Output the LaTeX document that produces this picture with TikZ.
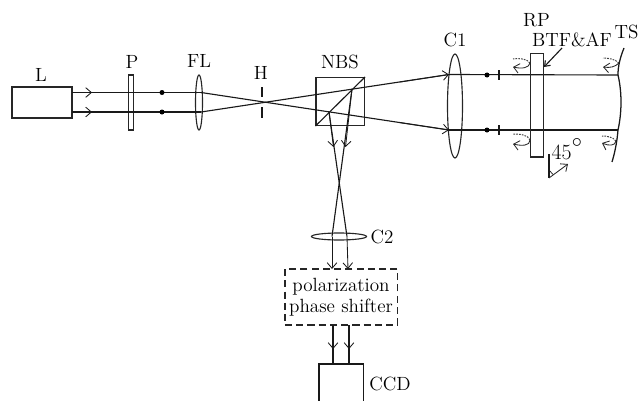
\documentclass[tikz,border=0pt]{standalone}
\usepackage{tikz}
\usetikzlibrary{
    arrows.meta,
    positioning,
    calc,
    shapes.geometric
}

\begin{document}
\begin{tikzpicture}[
  x=0.025cm,
  y=-0.025cm,
  lbl/.style={inner sep=0pt, font=\fontsize{13.6}{15}\selectfont, text=black},
  optbox/.style={draw=black!85, line width=0.8pt, inner sep=0pt},
  lens/.style={draw=black!85, ellipse, line width=0.8pt, inner sep=0pt},
  ray/.style={draw=black!90, line width=0.8pt},
  tip/.style={draw=black!90, line width=0.6pt, -{Straight Barb[length=1.4mm,width=2.4mm]}},
  spot/.style={circle, fill=black, inner sep=0pt, minimum size=1.25mm},
  twist/.style={draw=black!85, line width=0.6pt, -{Straight Barb[length=1.4mm,width=2.4mm]}},
  twistdot/.style={draw=black!75, line width=0.7pt, dash pattern=on 1.2pt off 0.8pt}
]
  \useasboundingbox (0,0) rectangle (639,401);

  % Source and first arm.
  \node[optbox, minimum width=1.5cm, minimum height=0.775cm] (laser) at (42,102.5) {};
  \node[lbl] (laserlbl) at (41,75) {L};
  \node[optbox, minimum width=0.14cm, minimum height=1.375cm] (polar) at (131,102.5) {};
  \node[lbl] (polarlbl) at (132,62) {P};
  \node[lens, minimum width=0.175cm, minimum height=1.375cm] (focus) at (199,102.5) {};
  \node[lbl] (focuslbl) at (199,61) {FL};
  \node[lbl] (holelbl) at (261,73) {H};
  \coordinate (holetop) at (262,87);
  \coordinate (holeupper) at (262,97);
  \coordinate (holelower) at (262,107);
  \coordinate (holebot) at (262,118);
  \draw[ray] (holetop) -- (holeupper);
  \draw[ray] (holelower) -- (holebot);

  \coordinate (beamtopa) at (72,92.5);
  \coordinate (beamlowa) at (72,112);
  \coordinate (focustop) at (201,92.5);
  \coordinate (focuslow) at (201,112);
  \draw[ray] (beamtopa) -- (focustop);
  \draw[ray] (beamlowa) -- (focuslow);
  \draw[tip] (beamtopa) -- (92,92.5);
  \draw[tip] (beamlowa) -- (92,112);
  \node[spot] (dota) at (162,92.5) {};
  \node[spot] (dotb) at (162,112) {};

  % Beam splitter and collimator.
  \node[optbox, minimum width=1.2125cm, minimum height=1.2cm] (nbs) at (340.25,101.5) {};
  \node[lbl] (nbslbl) at (340,62) {NBS};
  \draw[ray] (nbs.south west) -- (nbs.north east);
  \node[lens, minimum width=0.375cm, minimum height=2.6cm] (cone) at (455,106) {};
  \node[lbl] (conelbl) at (455,40) {C1};
  \coordinate (conetop) at (449,74.5);
  \coordinate (conelow) at (449,130);
  \draw[ray] (focuslow) -- (conetop);
  \draw[ray] (focustop) -- (conelow);
  \draw[tip] (400,82) -- (conetop);
  \draw[tip] (400,122.6) -- (conelow);

  % Test arm.
  \coordinate (tstop) at (618,75);
  \coordinate (tslow) at (618,130);
  \draw[ray] (conetop) -- (tstop);
  \draw[ray] (conelow) -- (tslow);
  \node[spot] (dotc) at (487,75) {};
  \node[spot] (dotd) at (487,130) {};
  \coordinate (ticka) at (499,75);
  \coordinate (tickb) at (499,130);
  \draw[ray] ($(ticka)+(0,-5)$) -- ($(ticka)+(0,5)$);
  \draw[ray] ($(tickb)+(0,-5)$) -- ($(tickb)+(0,5)$);
  \node[optbox, minimum width=0.3375cm, minimum height=2.5875cm] (plate) at (537,105.2) {};
  \node[lbl] (platelbl) at (536.5,20) {RP};
  \node[lbl] (filmlbl) at (572,40) {BTF\&AF};
  \draw[ray, -{Straight Barb[length=1.2mm,width=1.8mm]}] (562,48) -- (544,67);
  \node[lbl] (tslbl) at (626.5,32) {TS};
  \draw[draw=black!90, line width=0.9pt] (624,48) .. controls (620,58) and (618,66) .. (tstop)
    .. controls (622,92) and (622,112) .. (tslow)
    .. controls (617,142) and (615,152) .. (612,162);

  % Twist marks.
  \coordinate (twa) at (530,63);
  \coordinate (twb) at (530,140);
  \coordinate (twc) at (619,63);
  \coordinate (twd) at (616,141);
  \draw[twistdot] (twa) .. controls (527,59) and (521,58) .. (513,59);
  \draw[twist] (twa) .. controls (529,68) and (522,69) .. (513,67);
  \draw[twistdot] (twb) .. controls (528,135) and (521,134) .. (513,134);
  \draw[twist] (twb) .. controls (530,146) and (522,146) .. (513,144);
  \draw[twistdot] (twc) .. controls (615,59) and (608,58) .. (603,58);
  \draw[twist] (twc) .. controls (615,67) and (610,68) .. (603,67);
  \draw[twistdot] (twd) .. controls (613,137) and (607,136) .. (602,136);
  \draw[twist] (twd) .. controls (615,146) and (609,146) .. (602,143);

  % Angle mark.
  \node[lbl, font=\fontsize{15.5}{17}\selectfont] (anglelbl) at (561.5,152) {45};
  \node[lbl] (deglbl) at (577,143) {$\circ$};
  \coordinate (anglea) at (549,154);
  \coordinate (angleb) at (549,178);
  \draw[ray] (anglea) -- (angleb);
  \draw[twist] (angleb) -- (568,164);
  \draw[ray, line width=0.5pt] (549,170) -- (553,174.5);

  % Reference arm down to the camera.
  \coordinate (splitb) at (352,89);
  \coordinate (splita) at (329,112);
  \node[lens, minimum width=1.375cm, minimum height=0.175cm] (ctwo) at (339,236.5) {};
  \node[lbl] (ctwolbl) at (382,237) {C2};
  \coordinate (ctwol) at (332,236.5);
  \coordinate (ctwor) at (347,236.5);
  \draw[ray] (splitb) -- (ctwol);
  \draw[ray] (splita) -- (ctwor);
  \draw[tip] (splita) -- (333.5,147);
  \draw[tip] (splitb) -- (345.5,147);

  \node[draw=black!85, dashed, dash pattern=on 5pt off 3pt, line width=0.8pt, minimum width=2.8125cm, minimum height=1.4cm, inner sep=0pt] (shifter) at (341.25,297) {};
  \node[lbl, align=center] (shifterlbl) at (341,297.5) {polarization\\phase shifter};
  \coordinate (shiftl) at (332,269);
  \coordinate (shiftr) at (348,269);
  \draw[tip] (ctwol) -- (shiftl);
  \draw[tip] (ctwor) -- (shiftr);
  \coordinate (outl) at (333,325);
  \coordinate (outr) at (349,325);
  \coordinate (ccdl) at (333,364);
  \coordinate (ccdr) at (349,364);
  \draw[ray] (outl) -- (ccdl);
  \draw[ray] (outr) -- (ccdr);
  \draw[tip] (outl) -- (333,349);
  \draw[tip] (outr) -- (349,349);

  \coordinate (ccdbl) at (319,401);
  \coordinate (ccdbr) at (363.5,401);
  \draw[ray] (ccdbl) -- (319,364) -- (363.5,364) -- (ccdbr);
  \node[lbl] (ccdlbl) at (390,384) {CCD};
\end{tikzpicture}
\end{document}
